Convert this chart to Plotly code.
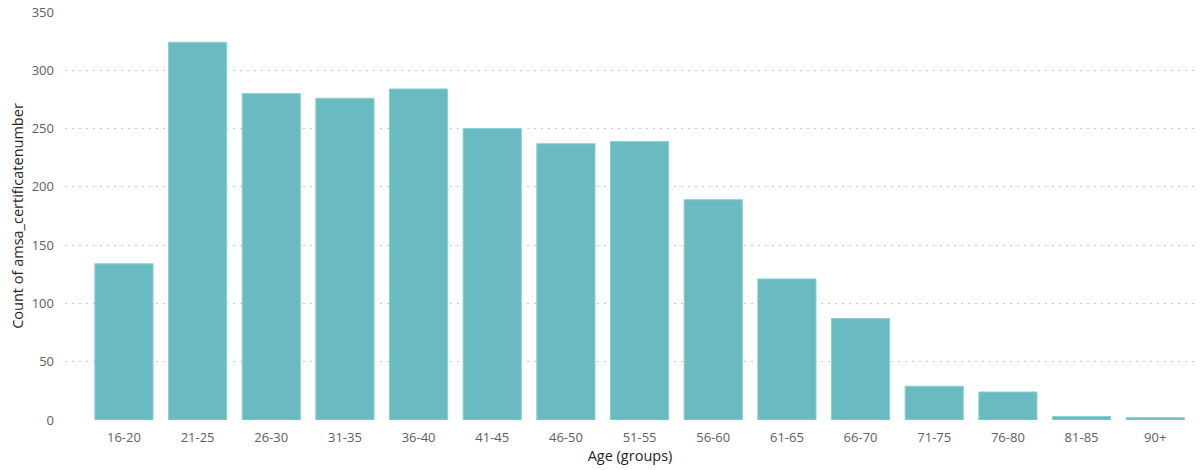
import plotly.graph_objects as go

age_groups = ["16-20", "21-25", "26-30", "31-35", "36-40", "41-45", "46-50",
              "51-55", "56-60", "61-65", "66-70", "71-75", "76-80", "81-85", "90+"]
counts = [134, 324, 280, 276, 284, 250, 237, 239, 189, 121, 87, 29, 24, 3, 2]
y_ticks = [0, 50, 100, 150, 200, 250, 300, 350]

fig = go.Figure(go.Bar(
    x=age_groups, y=counts,
    marker=dict(color="#6ABBC1", line=dict(color="#8ccfd3", width=1)),
    hoverinfo="x+y",
))

font_family = "Open Sans, DejaVu Sans, sans-serif"
fig.update_layout(
    width=1200, height=470,
    margin=dict(l=65, r=5, t=12, b=50),
    paper_bgcolor="white", plot_bgcolor="white",
    bargap=0.21,
    showlegend=False,
    font=dict(family=font_family, size=13, color="#605E5C"),
    xaxis=dict(
        type="category",
        range=[-0.80, 14.54],
        showgrid=False, showline=False, ticks="",
        tickfont=dict(size=13, color="#605E5C"),
        ticklabelstandoff=8,
        automargin=False,
        title=dict(text="Age (groups)", font=dict(size=14.5, color="#252423"), standoff=3),
    ),
    yaxis=dict(
        range=[0, 350],
        tickvals=y_ticks,
        showgrid=True, gridcolor="#C8C8C8", griddash="2px,5px", gridwidth=1,
        zeroline=False, showline=False, ticks="",
        tickfont=dict(size=13, color="#605E5C"),
        ticklabelstandoff=10,
        automargin=False,
        title=dict(text="Count of amsa_certificatenumber", font=dict(size=14.5, color="#252423"), standoff=4),
    ),
)

fig.write_html("out.html", config={"displayModeBar": False},
               post_script="document.body.style.margin='0';")
